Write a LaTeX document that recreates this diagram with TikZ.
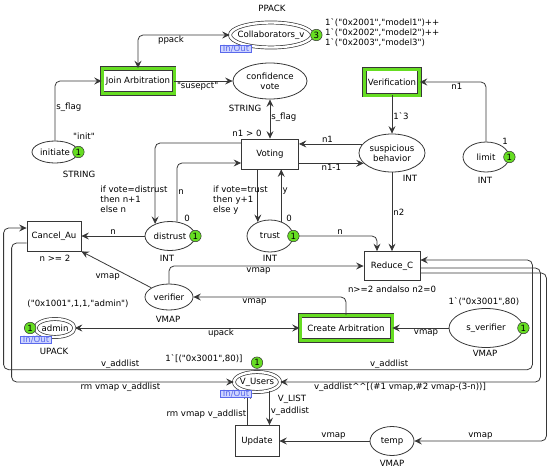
\documentclass[tikz,border=0pt]{standalone}
\usepackage{fontspec}
\setmainfont{DejaVu Sans}[Ligatures=TeXOff]
\usepackage{tikz}
\usetikzlibrary{arrows.meta,positioning,calc,shapes.geometric}
\definecolor{arcgray}{RGB}{55,55,55}
\definecolor{tokgreen}{RGB}{102,221,34}
\definecolor{portblue}{RGB}{90,105,235}
\definecolor{portfill}{RGB}{206,212,255}
\newcommand{\cpnfont}{\fontsize{8.6}{10}\selectfont}
\newcommand{\bq}{\textasciigrave}

\begin{document}
\begin{tikzpicture}[
  x=1pt, y=-1pt,
  font=\cpnfont,
  arr/.style={draw=arcgray,line width=0.8pt,rounded corners=5pt,
    -{Stealth[length=7.5pt,width=7pt,inset=2.8pt]}},
  biarr/.style={arr,{Stealth[length=7.5pt,width=7pt,inset=2.8pt]}-{Stealth[length=7.5pt,width=7pt,inset=2.8pt]}},
  place/.style={ellipse,draw=arcgray,line width=0.8pt,inner sep=0.5pt},
  ioplace/.style={place,double,double distance=2.4pt,line width=0.7pt},
  trans/.style={rectangle,draw=arcgray,line width=0.8pt},
  subst/.style={trans,double=tokgreen,double distance=3pt,line width=0.6pt},
  tok/.style={circle,draw=black!80,fill=tokgreen,line width=0.5pt,inner sep=0pt,minimum size=11.5pt},
  port/.style={draw=portblue,fill=portfill,text=portblue,line width=0.5pt,inner xsep=2.5pt,inner ysep=0pt},
  lbl/.style={inner sep=1pt}
]
  \useasboundingbox (0,0) rectangle (550,472);

  % places and transitions
  \node[ioplace,minimum width=82pt,minimum height=25pt,inner xsep=-5pt] (collab) at (271,35) {Collaborators\_v};
  \node[subst,minimum width=72pt,minimum height=25pt] (join) at (138,81) {Join Arbitration};
  \node[place,minimum width=74pt,minimum height=36pt,align=center] (conf) at (270,81) {confidence\\vote};
  \node[subst,minimum width=54pt,minimum height=26pt] (verif) at (392,82) {Verification};
  \node[place,minimum width=46pt,minimum height=22pt] (init) at (55,152) {initiate};
  \node[trans,minimum width=57pt,minimum height=30pt] (voting) at (270,154) {Voting};
  \node[place,minimum width=66pt,minimum height=38pt,align=center] (susp) at (392,153) {suspicious\\behavior};
  \node[place,minimum width=46pt,minimum height=30pt] (limit) at (486,157) {limit};
  \node[place,minimum width=50pt,minimum height=29pt] (distrust) at (170,236) {distrust};
  \node[place,minimum width=46pt,minimum height=32pt] (trust) at (270,236) {trust};
  \node[trans,minimum width=54pt,minimum height=30pt] (cancel) at (54,236) {Cancel\_Au};
  \node[trans,minimum width=56pt,minimum height=29pt] (reduce) at (392,266) {Reduce\_C};
  \node[place,minimum width=48pt,minimum height=26pt] (verifier) at (169,297) {verifier};
  \node[ioplace,minimum width=39pt,minimum height=18pt,inner xsep=-1pt] (admin) at (55,328) {admin};
  \node[subst,minimum width=92pt,minimum height=25pt] (create) at (346,328) {Create Arbitration};
  \node[place,minimum width=74pt,minimum height=39pt] (sverif) at (486,328) {s\_verifier};
  \node[ioplace,minimum width=46pt,minimum height=20pt,inner xsep=-1pt] (vusers) at (257,382) {V\_Users};
  \node[trans,minimum width=44pt,minimum height=31pt] (update) at (257,441) {Update};
  \node[place,minimum width=44pt,minimum height=29pt] (temp) at (392,441) {temp};

  % arcs
  \draw[biarr] (join) |- node[lbl,below,pos=0.68] {ppack} (collab);
  \draw[arr] (init) |- node[lbl,right,pos=0.28] {s\_flag} (join);
  \draw[arr] (join) -- node[lbl,below,pos=0.4] {"susepct"} (conf);
  \draw[biarr] (conf) -- node[lbl,right,pos=0.45] {s\_flag} (voting);
  \draw[arr] (verif) -- node[lbl,right,pos=0.54] {1\bq 3} (susp);
  \draw[arr] (limit) |- node[lbl,below,pos=0.72] {n1} (verif);
  \draw[arr] (susp.163) -- node[lbl,above,pos=0.55] {n1} (susp.163 -| voting.east);
  \draw[arr] (voting.east |- susp.200) -- node[lbl,below] {n1-1} (susp.200);
  \draw[arr] ([yshift=11pt]voting.west) -| node[lbl,pos=0.85,anchor=west,xshift=-56pt,align=left]
    {if vote=distrust\\then n+1\\else n} (distrust.141);
  \draw[arr] (distrust.64) |- node[lbl,right,pos=0.25] {n} ([yshift=-9pt]voting.west);
  \draw[arr] (voting.south -| trust.131) -- node[lbl,pos=0.58,anchor=west,xshift=-46pt,align=left]
    {if vote=trust\\then y+1\\else y} (trust.131);
  \draw[arr] (trust.52) -- node[lbl,right,pos=0.58] {y} (trust.52 |- voting.south);
  \draw[arr] (trust.east) -| node[lbl,above,pos=0.28] {n} ([xshift=-15pt]reduce.north);
  \draw[arr] (susp) -- node[lbl,right,pos=0.51] {n2} (reduce);
  \draw[arr] (distrust) -- node[lbl,above] {n} (cancel);
  \draw[arr] (verifier) -- node[lbl,below left,pos=0.43] {vmap} (cancel.south east);
  \draw[arr] (verifier) |- node[lbl,below,pos=0.73] {vmap} (reduce);
  \draw[arr] (create) |- node[lbl,below,pos=0.8] {vmap} (verifier);
  \draw[biarr] (admin) -- node[lbl,below,pos=0.65] {upack} (create);
  \draw[arr] (sverif) -- node[lbl,below,pos=0.4] {vmap} (create);
  \draw[arr] ([yshift=2pt]vusers.north) -| node[lbl,above,pos=0.27] {v\_addlist}
    ([xshift=-23pt,yshift=8pt]cancel.west) -- ([yshift=8pt]cancel.west);
  \draw[arr] ([yshift=2pt]vusers.north) -| node[lbl,above,pos=0.24] {v\_addlist}
    ([xshift=112pt,yshift=6pt]reduce.east) -- ([yshift=6pt]reduce.east);
  \draw[arr] ([yshift=-2pt]reduce.east) -- ++(120,0) |- node[lbl,below,pos=0.77]
    {v\_addlist\textasciicircum\textasciicircum[(\#1 vmap,\#2 vmap-(3-n))]} (vusers.east);
  \draw[arr] ([yshift=-7pt]reduce.east) -- ++(126,0) |- node[lbl,above,pos=0.75] {vmap} (temp.east);
  \draw[arr] (temp) -- node[lbl,above,pos=0.4] {vmap} (update);
  \draw[arr] (vusers.325) -- node[lbl,right,pos=0.6] {v\_addlist} (vusers.325 |- update.north);
  \draw[arr] (update.north -| vusers.225) -- node[lbl,left,pos=0.31] {rm vmap v\_addlist} (vusers.225);
  \draw[arr] ([yshift=-7pt]cancel.west) -- ++(-15,0) |- node[lbl,below,pos=0.745]
    {rm vmap v\_addlist} (vusers.west);

  % colour sets, initial markings, guards
  \node[lbl] (collabtype) at (272,8) {PPACK};
  \node[lbl,anchor=west,align=left] (collabmark) at (324,33)
    {1\bq("0x2001","model1")++\\1\bq("0x2002","model2")++\\1\bq("0x2003","model3")};
  \node[lbl] (conftype) at (245,108) {STRING};
  \node[lbl] (initmark) at (84,136) {"init"};
  \node[lbl] (inittype) at (79,174) {STRING};
  \node[lbl] (votingguard) at (247,133) {n1 > 0};
  \node[lbl] (limitmark) at (505,141) {1};
  \node[lbl] (susptype) at (410,178) {INT};
  \node[lbl] (limittype) at (485,180) {INT};
  \node[lbl] (distrustmark) at (187,218) {0};
  \node[lbl] (trustmark) at (289,218) {0};
  \node[lbl] (distrusttype) at (167,258) {INT};
  \node[lbl] (trusttype) at (270,258) {INT};
  \node[lbl] (cancelguard) at (55,258) {n >= 2};
  \node[lbl] (reduceguard) at (392,289) {n>=2 andalso n2=0};
  \node[lbl] (verifiertype) at (168,319) {VMAP};
  \node[lbl] (adminmark) at (78,304) {("0x1001",1,1,"admin")};
  \node[lbl] (admintype) at (54,351) {UPACK};
  \node[lbl] (sverifmark) at (484,302) {1\bq("0x3001",80)};
  \node[lbl] (sveriftype) at (485,353) {VMAP};
  \node[lbl] (vusersmark) at (204,359) {1\bq[("0x3001",80)]};
  \node[lbl] (vuserstype) at (292,399) {V\_LIST};
  \node[lbl] (temptype) at (392,463) {VMAP};

  % port tags
  \node[port] (collabport) at (236,49) {In/Out};
  \node[port] (adminport) at (36,340) {In/Out};
  \node[port] (vusersport) at (236,394) {In/Out};

  % tokens
  \node[tok] (collabtok) at ([xshift=4pt]collab.east) {3};
  \node[tok] (inittok) at (init.east) {1};
  \node[tok] (limittok) at (limit.east) {1};
  \node[tok] (distrusttok) at (distrust.east) {1};
  \node[tok] (trusttok) at (trust.east) {1};
  \node[tok] (admintok) at ([xshift=-5pt]admin.west) {1};
  \node[tok] (sveriftok) at (sverif.east) {1};
  \node[tok] (vuserstok) at ([yshift=9pt]vusers.north) {1};
\end{tikzpicture}
\end{document}
